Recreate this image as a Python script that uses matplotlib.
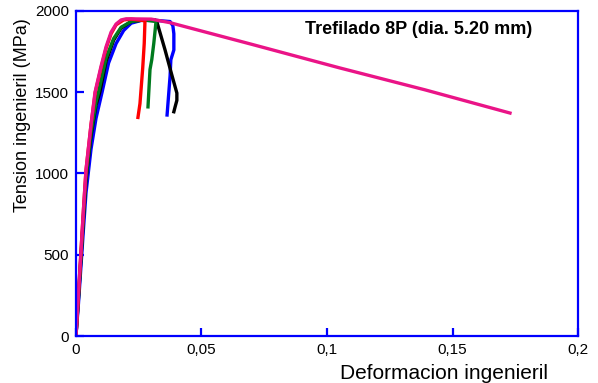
import matplotlib
matplotlib.use("Agg")
import matplotlib.pyplot as plt
from matplotlib.ticker import FuncFormatter

plt.rcParams["font.family"] = ["Liberation Sans", "DejaVu Sans"]

# strain / stress readings (strain in mm/mm, stress in MPa)
blue_x = [0, 0.001, 0.002, 0.003, 0.004, 0.006, 0.008, 0.0104, 0.013, 0.016,
          0.019, 0.022, 0.026, 0.032, 0.0375, 0.0386, 0.039, 0.039, 0.0378,
          0.0375, 0.0368, 0.0363]
blue_y = [0, 200, 430, 660, 880, 1150, 1340, 1500, 1680, 1800, 1880, 1925,
          1942, 1942, 1935, 1910, 1860, 1760, 1700, 1600, 1460, 1360]

black_x = [0, 0.001, 0.002, 0.003, 0.004, 0.006, 0.008, 0.0095, 0.012, 0.015,
           0.018, 0.022, 0.027, 0.0315, 0.0323, 0.0355, 0.0382, 0.0402,
           0.0402, 0.0395, 0.039]
black_y = [0, 230, 480, 730, 960, 1230, 1420, 1500, 1690, 1820, 1895, 1935,
           1945, 1945, 1930, 1760, 1606, 1495, 1450, 1410, 1380]

green_x = [0, 0.001, 0.002, 0.003, 0.004, 0.006, 0.008, 0.009, 0.012, 0.015,
           0.018, 0.022, 0.027, 0.0319, 0.031, 0.0302, 0.0295, 0.0287]
green_y = [0, 240, 490, 740, 980, 1250, 1440, 1500, 1710, 1830, 1900, 1935,
           1945, 1935, 1800, 1700, 1640, 1410]

red_x = [0, 0.001, 0.002, 0.003, 0.004, 0.006, 0.0077, 0.010, 0.012, 0.014,
         0.016, 0.019, 0.022, 0.0275, 0.0272, 0.0266, 0.026, 0.0255, 0.0247]
red_y = [0, 260, 520, 780, 1020, 1300, 1500, 1650, 1770, 1860, 1915, 1945,
         1950, 1940, 1800, 1650, 1530, 1430, 1345]

magenta_x = [0, 0.001, 0.002, 0.003, 0.004, 0.006, 0.0076, 0.010, 0.012,
             0.014, 0.016, 0.018, 0.020, 0.030, 0.0375, 0.070, 0.105, 0.139,
             0.1729]
magenta_y = [0, 260, 520, 780, 1020, 1300, 1500, 1660, 1780, 1870, 1920,
             1945, 1952, 1950, 1928, 1795, 1650, 1515, 1372]

x_ticks = [0, 0.05, 0.1, 0.15, 0.2]
y_ticks = [0, 500, 1000, 1500, 2000]

fig = plt.figure(figsize=(5.98, 3.83), dpi=100)
ax = fig.add_axes([0.127, 0.1227, 0.8396, 0.8486])

ax.plot(blue_x, blue_y, color="#0000ff", lw=2.4)
ax.plot(black_x, black_y, color="black", lw=2.4)
ax.plot(green_x, green_y, color="#007a1e", lw=2.4)
ax.plot(red_x, red_y, color="#ff0000", lw=2.4)
ax.plot(magenta_x, magenta_y, color="#ea1487", lw=2.4)

ax.set_xlim(0, 0.2)
ax.set_ylim(0, 2000)
ax.set_xticks(x_ticks)
ax.set_yticks(y_ticks)
ax.xaxis.set_major_formatter(
    FuncFormatter(lambda v, p: ("%g" % v).replace(".", ",")))

for s in ax.spines.values():
    s.set_color("blue")
    s.set_linewidth(1.6)
ax.tick_params(direction="in", length=6, width=1.6, color="blue",
               labelsize=11, pad=5)

ax.set_xlabel("Deformacion ingenieril", fontsize=15)
ax.xaxis.set_label_coords(0.733, -0.085)
ax.set_ylabel("Tension ingenieril (MPa)", fontsize=13)
ax.yaxis.set_label_coords(-0.09, 0.68)

ax.text(0.683, 0.942, "Trefilado 8P (dia. 5.20 mm)", transform=ax.transAxes,
        ha="center", va="center", fontsize=13, fontweight="bold")

fig.savefig("out.png", dpi=100)
